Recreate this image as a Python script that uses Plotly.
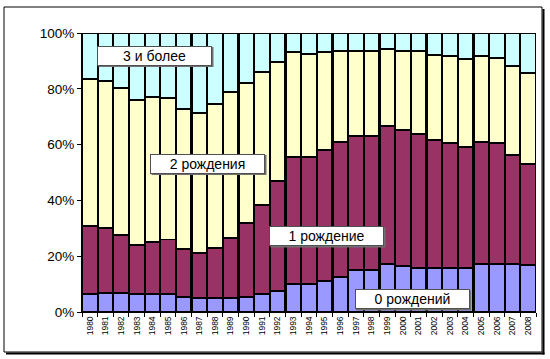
import plotly.graph_objects as go

years = [str(y) for y in range(1980, 2009)]
# shares (%) of women by number of births
zero = [6.5, 6.8, 6.8, 6.5, 6.5, 6.5, 5.4, 5.0, 5.0, 5.0, 5.4, 6.5, 7.5, 10.0, 10.0,
        11.1, 12.5, 15.1, 15.1, 17.2, 16.5, 15.8, 15.8, 15.8, 15.8, 17.2, 17.2, 17.2, 16.8]
one = [24.3, 23.3, 20.8, 17.5, 18.6, 19.4, 17.2, 16.1, 17.9, 21.5, 26.5, 31.9, 39.5, 45.6, 45.6,
       47.0, 48.4, 48.0, 48.0, 49.5, 48.7, 48.0, 45.8, 44.8, 43.3, 43.7, 43.4, 39.1, 36.2]
two = [52.7, 52.7, 52.7, 52.0, 52.0, 50.8, 50.2, 50.2, 51.7, 52.4, 50.2, 47.6, 42.6, 37.6, 36.9,
       35.1, 32.6, 30.4, 30.4, 27.6, 28.3, 29.7, 30.5, 31.2, 31.6, 30.9, 30.4, 31.9, 32.7]
three = [16.5, 17.2, 19.7, 24.0, 22.9, 23.3, 27.2, 28.7, 25.4, 21.1, 17.9, 14.0, 10.4, 6.8, 7.5,
         6.8, 6.5, 6.5, 6.5, 5.7, 6.5, 6.5, 7.9, 8.2, 9.3, 8.2, 9.0, 11.8, 14.3]

series = [
    ("0 рождений", zero, "#9999FF"),
    ("1 рождение", one, "#993366"),
    ("2 рождения", two, "#FFFFCC"),
    ("3 и более", three, "#CCFFFF"),
]

fig = go.Figure()
for name, vals, col in series:
    fig.add_trace(go.Bar(x=years, y=vals, name=name,
                         marker=dict(color=col, line=dict(color="black", width=1.3))))

W, H = 550, 359
L, R, T, B = 82, 14, 33, 47
pw, ph = W - L - R, H - T - B

def px(x):
    return (x - L) / pw

def py(y):
    return (H - B - y) / ph

fig.update_layout(
    width=W, height=H, barmode="stack", barnorm="percent", bargap=0.06,
    margin=dict(l=L, r=R, t=T, b=B, autoexpand=False),
    paper_bgcolor="white", plot_bgcolor="white", showlegend=False,
    font=dict(family="Liberation Sans, Arial", color="black"),
    xaxis=dict(tickangle=-90, tickfont=dict(size=8.5), showline=True, linecolor="black",
               linewidth=1, ticks="outside", ticklen=4, tickcolor="black",
               tickson="boundaries", showgrid=False),
    yaxis=dict(range=[0, 100], tickvals=[0, 20, 40, 60, 80, 100],
               ticktext=["0%", "20%", "40%", "60%", "80%", "100%"],
               tickfont=dict(size=13.5), showline=True, linecolor="black", linewidth=1,
               ticks="outside", ticklen=4, tickcolor="black", showgrid=False),
)

# labels in boxes (centre positions in pixels)
labels = [
    ("3 и более", 154.5, 55.5),
    ("2 рождения", 207.5, 163.5),
    ("1 рождение", 326.5, 236),
    ("0 рождений", 412, 299),
]
BW, BH = 115, 20
shapes = []
annotations = []
for text, cx, cy in labels:
    shapes.append(dict(type="rect", xref="paper", yref="paper",
                       x0=px(cx - BW / 2 + 1.5), x1=px(cx + BW / 2 + 1.5),
                       y0=py(cy + BH / 2 + 1.5), y1=py(cy - BH / 2 + 1.5),
                       fillcolor="#707070", line=dict(width=0), layer="above"))
    annotations.append(dict(text=text, x=px(cx), y=py(cy), xref="paper", yref="paper",
                            xanchor="center", yanchor="middle",
                            showarrow=False, font=dict(size=14, color="black"),
                            bgcolor="white", bordercolor="#505050", borderwidth=1,
                            borderpad=1, width=BW - 4, height=BH - 4, align="center"))

# outer frame with shadow
fx0, fx1, fy0, fy1 = 4, 542, 7, 352
shapes.append(dict(type="rect", xref="paper", yref="paper", x0=px(fx0), x1=px(fx1),
                   y0=py(fy1), y1=py(fy0), line=dict(color="black", width=1)))
shapes.append(dict(type="line", xref="paper", yref="paper", x0=px(fx1 + 1.5), x1=px(fx1 + 1.5),
                   y0=py(fy1 + 2.5), y1=py(fy0 + 2), line=dict(color="black", width=2)))
shapes.append(dict(type="line", xref="paper", yref="paper", x0=px(fx0 + 2), x1=px(fx1 + 2.5),
                   y0=py(fy1 + 1.5), y1=py(fy1 + 1.5), line=dict(color="black", width=2)))

fig.update_layout(shapes=shapes, annotations=annotations)
fig.write_html("out.html", config={"displayModeBar": False},
               post_script="document.body.style.margin='0';")
